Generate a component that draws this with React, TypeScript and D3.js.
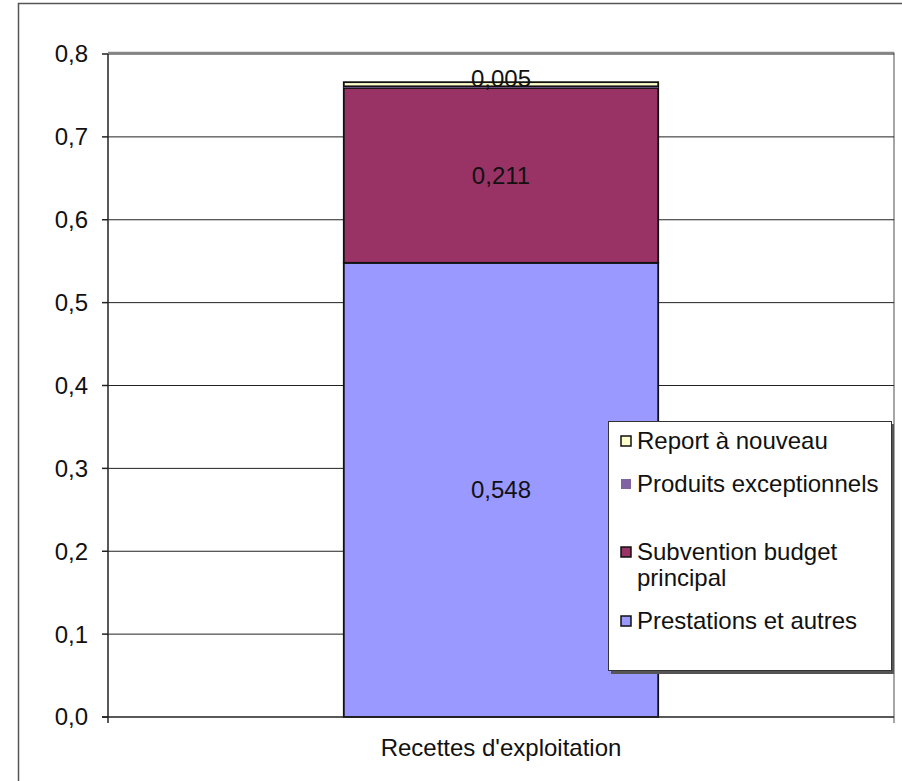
import React from "react";
import * as d3 from "d3";

const categories = ["Recettes d'exploitation"];
const seriesNames = ["Prestations et autres", "Subvention budget principal", "Produits exceptionnels", "Report à nouveau"];
const seriesValues = [0.548, 0.211, 0.002, 0.005];
const seriesLabels = ["0,548", "0,211", "", "0,005"];
const seriesColors = ["#9999FF", "#993366", "#8064A2", "#FFFFCC"];
const yTicks = [0, 0.1, 0.2, 0.3, 0.4, 0.5, 0.6, 0.7, 0.8];

const W = 902, H = 781;
const plot = { left: 108, right: 894, top: 54, bottom: 717 };
const font = "'Liberation Sans', Arial, sans-serif";
const FS = 24;

export default function App() {
  const y = d3.scaleLinear().domain([0, 0.8]).range([plot.bottom, plot.top]);
  const x = d3.scaleBand().domain(categories).range([plot.left, plot.right]).paddingInner(0.6).paddingOuter(0.3);
  const stack: { y0: number; y1: number; i: number }[] = [];
  let acc = 0;
  seriesValues.forEach((v, i) => {
    stack.push({ y0: acc, y1: acc + v, i });
    acc += v;
  });
  const fmt = (t: number) => t.toFixed(1).replace(".", ",");
  const bx = x(categories[0])!;
  const bw = x.bandwidth();
  const legendItems = [
    { i: 3, lines: ["Report à nouveau"], cy: 441 },
    { i: 2, lines: ["Produits exceptionnels"], cy: 484 },
    { i: 1, lines: ["Subvention budget", "principal"], cy: 552 },
    { i: 0, lines: ["Prestations et autres"], cy: 621 },
  ];
  return (
    <svg width={W} height={H} style={{ position: "absolute", left: 0, top: 0, background: "#fff" }} fontFamily={font}>
      <rect x={0} y={0} width={W} height={H} fill="#fff" />
      <rect x={18.5} y={3.5} width={W + 10} height={H + 10} fill="none" stroke="#555" strokeWidth={1.5} />
      <line x1={plot.left} x2={plot.right} y1={52.5} y2={52.5} stroke="#888" strokeWidth={1.5} />
      <line x1={plot.right} x2={plot.right} y1={52.5} y2={plot.bottom + 6} stroke="#888" strokeWidth={1.5} />
      {yTicks.map((t) => (
        <g key={t}>
          {t > 0 && <line x1={plot.left} x2={plot.right} y1={y(t)} y2={y(t)} stroke="#222" strokeWidth={1} />}
          <line x1={plot.left - 6} x2={plot.left} y1={y(t)} y2={y(t)} stroke="#222" strokeWidth={1.5} />
          <text x={plot.left - 20} y={y(t)} dy="0.35em" textAnchor="end" fontSize={FS} fill="#111">{fmt(t)}</text>
        </g>
      ))}
      {stack.map((s) => (
        <rect key={s.i} x={bx} width={bw} y={y(s.y1)} height={y(s.y0) - y(s.y1)} fill={seriesColors[s.i]}
          stroke={s.i === 2 ? "none" : "#111"} strokeWidth={1.8} />
      ))}
      {stack.map((s) => seriesLabels[s.i] && (
        <text key={"l" + s.i} x={bx + bw / 2} y={(y(s.y0) + y(s.y1)) / 2 - (s.i === 3 ? 6 : 0)} dy="0.35em" textAnchor="middle" fontSize={FS} fill="#111">{seriesLabels[s.i]}</text>
      ))}
      <line x1={plot.left} x2={plot.left} y1={plot.top} y2={plot.bottom + 6} stroke="#222" strokeWidth={1.5} />
      <line x1={plot.left - 6} x2={plot.right} y1={plot.bottom} y2={plot.bottom} stroke="#222" strokeWidth={1.5} />
      <text x={bx + bw / 2} y={748} dy="0.35em" textAnchor="middle" fontSize={FS} fill="#111">{categories[0]}</text>
      <rect x={611} y={424} width={283} height={250} fill="#555" />
      <rect x={608.5} y={421.5} width={283} height={249} fill="#fff" stroke="#333" strokeWidth={1} />
      {legendItems.map((it) => (
        <g key={it.i}>
          <rect x={621} y={it.cy - 5} width={10} height={10} fill={seriesColors[it.i]} stroke={it.i === 2 ? "none" : "#111"} strokeWidth={1.5} />
          {it.lines.map((ln, k) => (
            <text key={k} x={637} y={it.cy + k * 25.5} dy="0.35em" fontSize={FS} fill="#111">{ln}</text>
          ))}
        </g>
      ))}
    </svg>
  );
}
